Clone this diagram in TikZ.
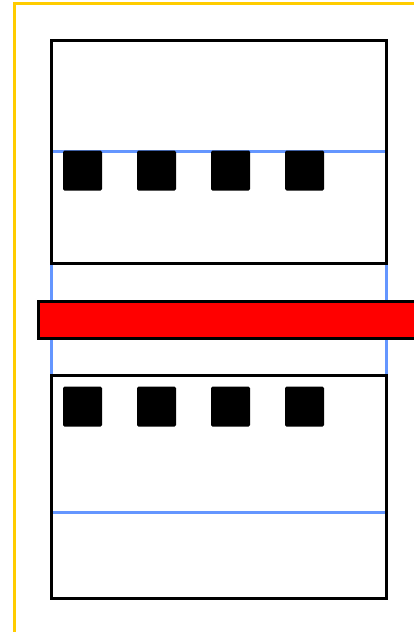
\documentclass[tikz,border=0pt]{standalone}
\usepackage{xcolor}
\usepackage{tikz}
\definecolor{frameYellow}{RGB}{255,204,0}
\definecolor{lineBlue}  {RGB}{100,150,255}
\definecolor{barRed}    {RGB}{255,0,0}

\begin{document}
\begin{tikzpicture}[x=1pt,y=-1pt,
          pad/.style={fill=black,rounded corners=1.5pt,inner sep=0pt,
                      minimum width=39pt,minimum height=40pt},
          blk/.style={draw=black,line width=3pt},
        ]
        \useasboundingbox (0,0) rectangle (414,632);
        \clip (0,0) rectangle (414,632);
        % FRAME
        \draw[frameYellow,line width=3pt] (14,3) rectangle (440,660);
        \draw[lineBlue,line width=3pt] (51,151) rectangle (386,512);

        % BLOCKS
        \draw[blk] (51,40) rectangle (386,263);
        \draw[blk] (51,375) rectangle (386,598);
        \draw[blk,fill=barRed] (38,301) rectangle (440,338);

        % PADS
        \foreach \i/\x in {1/82.5,2/156.5,3/230.5,4/304.5}{
          \node[pad](t\i) at (\x,170.5){};
          \node[pad](b\i) at (\x,406.5){};
        }
\end{tikzpicture}
\end{document}
